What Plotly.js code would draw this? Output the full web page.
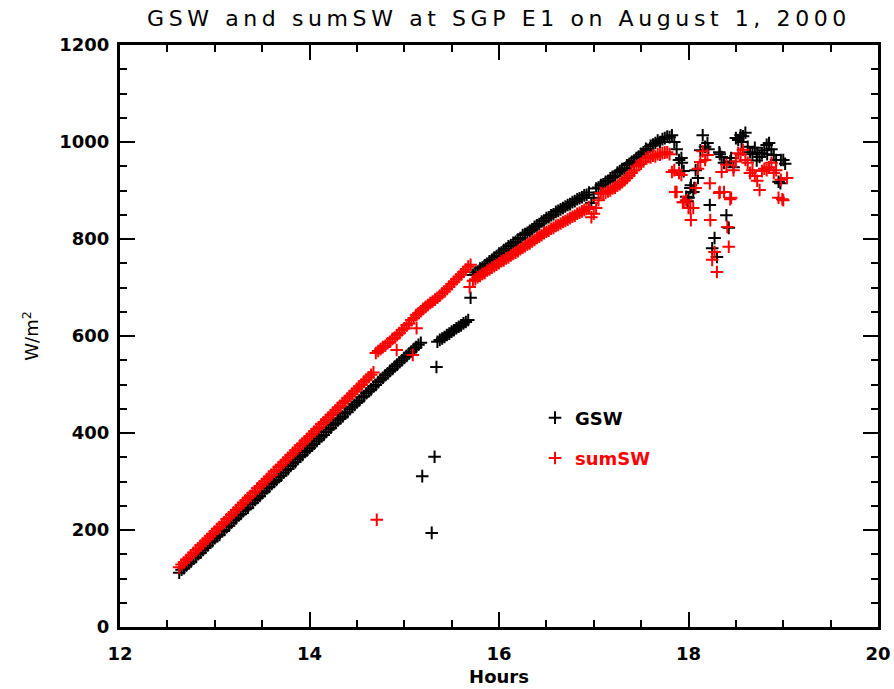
<!DOCTYPE html>
<html>
<head>
<meta charset="utf-8">
<script src="https://cdn.plot.ly/plotly-3.0.1.min.js"></script>
<style>
html,body{margin:0;padding:0;background:#fff;}
#chart{width:894px;height:689px;}
</style>
</head>
<body>
<div id="chart"></div>
<script>
// Time of day (hours) for the regular samples
const hours = [
12.625,12.65,12.675,12.7,12.725,12.75,12.775,12.8,12.825,12.85,
12.875,12.9,12.925,12.95,12.975,13,13.025,13.05,13.075,13.1,
13.125,13.15,13.175,13.2,13.225,13.25,13.275,13.3,13.325,13.35,
13.375,13.4,13.425,13.45,13.475,13.5,13.525,13.55,13.575,13.6,
13.625,13.65,13.675,13.7,13.725,13.75,13.775,13.8,13.825,13.85,
13.875,13.9,13.925,13.95,13.975,14,14.025,14.05,14.075,14.1,
14.125,14.15,14.175,14.2,14.225,14.25,14.275,14.3,14.325,14.35,
14.375,14.4,14.425,14.45,14.475,14.5,14.525,14.55,14.575,14.6,
14.625,14.65,14.675,14.7,14.725,14.75,14.775,14.8,14.825,14.85,
14.875,14.9,14.925,14.95,14.975,15,15.025,15.05,15.075,15.1,
15.125,15.15,15.175,15.2,15.225,15.25,15.275,15.3,15.325,15.35,
15.375,15.4,15.425,15.45,15.475,15.5,15.525,15.55,15.575,15.6,
15.625,15.65,15.675,15.7,15.725,15.75,15.775,15.8,15.825,15.85,
15.875,15.9,15.925,15.95,15.975,16,16.025,16.05,16.075,16.1,
16.125,16.15,16.175,16.2,16.225,16.25,16.275,16.3,16.325,16.35,
16.375,16.4,16.425,16.45,16.475,16.5,16.525,16.55,16.575,16.6,
16.625,16.65,16.675,16.7,16.725,16.75,16.775,16.8,16.825,16.85,
16.875,16.9,16.925,16.95,16.975,17,17.025,17.05,17.075,17.1,
17.125,17.15,17.175,17.2,17.225,17.25,17.275,17.3,17.325,17.35,
17.375,17.4,17.425,17.45,17.475,17.5,17.525,17.55,17.575,17.6,
17.625,17.65,17.675,17.7,17.725,17.75,17.775,17.8,17.825,17.85,
17.875,17.9,17.925,17.95,17.975,18,18.025,18.05,18.075,18.1,
18.125,18.15,18.175,18.2,18.225,18.25,18.275,18.3,18.325,18.35,
18.375,18.4,18.425,18.45,18.475,18.5,18.525,18.55,18.575,18.6,
18.625,18.65,18.675,18.7,18.725,18.75,18.775,18.8,18.825,18.85,
18.875,18.9,18.925,18.95,18.975,19
];

// GSW (W/m^2) at each sample time; null = no sample in the band
const gsw = [
112,118,121,127,131,135,141,144,150,153,
159,163,168,174,177,183,187,190,197,200,
206,209,215,220,224,230,233,239,243,246,
253,256,262,266,270,276,280,286,289,295,
299,303,309,312,318,323,326,332,337,340,
346,351,355,361,364,369,374,378,383,388,
393,396,402,407,411,417,420,426,430,434,
440,443,449,454,458,463,467,473,476,482,
486,490,496,499,505,510,514,519,523,528,
532,537,541,546,550,555,559,564,568,573,
577,582,586,null,null,null,null,null,null,588,
592,595,598,602,605,609,612,616,619,622,
626,629,633,679,726,731,733,739,741,746,
749,754,757,762,765,770,772,777,780,785,
787,792,794,799,802,808,810,813,817,820,
825,828,831,836,838,843,845,849,851,856,
858,861,864,867,870,872,876,878,882,884,
886,890,891,896,874,885,904,906,911,913,
918,920,925,928,931,937,940,944,946,952,
955,959,962,967,970,975,979,986,983,992,
995,998,1003,1000,1006,1008,1011,1010,1014,1000,
985,963,967,940,887,885,911,897,942,926,
983,1014,990,998,870,781,802,763,979,969,
957,849,823,967,948,1008,1004,1014,1012,1019,
990,979,975,988,977,969,977,983,994,998,
985,973,963,918,963,963
];

// sumSW (W/m^2) at each sample time
const sumsw = [
123,129,133,138,143,148,153,158,162,168,
172,177,182,187,192,197,202,206,212,216,
222,226,231,236,241,246,251,256,261,266,
270,276,280,286,290,295,300,305,310,314,
320,324,330,334,339,344,349,354,359,364,
368,374,378,383,388,393,398,403,408,412,
418,422,427,432,437,442,447,452,456,462,
466,471,476,481,486,491,496,500,506,510,
515,520,525,565,569,573,577,580,585,588,
594,597,602,606,612,616,622,626,633,637,
643,647,651,656,660,664,668,671,675,679,
683,688,692,697,702,707,712,717,722,727,
732,737,743,747,714,717,721,724,728,730,
735,737,741,744,747,750,754,756,760,762,
766,769,772,775,779,782,785,789,791,795,
798,802,805,808,812,815,817,821,823,827,
829,832,835,837,840,843,846,848,852,854,
857,860,862,866,845,852,864,880,895,893,
895,898,900,904,906,910,913,917,921,926,
931,936,941,950,953,955,960,966,969,968,
972,970,975,974,977,978,979,975,938,942,
897,936,932,876,880,864,839,864,905,945,
959,981,963,973,915,757,773,732,895,938,
897,953,784,885,942,960,977,975,984,963,
957,936,942,930,920,901,940,945,942,948,
957,936,942,885,922,880
];

// Additional (off-grid) samples: outliers and the scattered cloudy period
const gswExtraHours = [15.19,15.29,15.32,15.34,17.93,18.02,17.99,18.21,18.33,18.44,18.56,18.72,18.83,18.97,19.02,18.06];
const gswExtraVals  = [311,194,351,536,957,905,878,985,975,960,1000,962,975,915,955,905];
const sumExtraHours = [14.71,14.92,15.09,15.13,15.69,18.23,18.41,18.33,17.86,17.94,18.99,19.04,18.65,18.02,18.44];
const sumExtraVals  = [221,571,561,616,701,839,825,897,897,876,882,926,936,864,882];

const seriesNames = ['GSW', 'sumSW'];
const chartTitle = 'GSW and sumSW at SGP E1 on August 1, 2000';
const xTitle = 'Hours';
const yTitle = 'W/m<sup>2</sup>';

const traces = [
  {
    type: 'scatter', mode: 'markers',
    name: seriesNames[0], legendgroup: 'g1',
    x: hours.concat(gswExtraHours),
    y: gsw.concat(gswExtraVals),
    marker: {symbol: 'cross-thin-open', size: 9, color: '#000000', line: {color: '#000000', width: 2}}
  },
  {
    type: 'scatter', mode: 'markers',
    name: '<span style="color:#ff0000">' + seriesNames[1] + '</span>', legendgroup: 'g2',
    x: hours.concat(sumExtraHours),
    y: sumsw.concat(sumExtraVals),
    marker: {symbol: 'cross-thin-open', size: 9, color: '#ff0000', line: {color: '#ff0000', width: 2}}
  }
];

const tickFont = {family: 'DejaVu Sans', size: 18, color: '#000', weight: 'bold'};
const axisBase = {
  showline: true, linecolor: '#000', linewidth: 3, mirror: 'ticks',
  ticks: 'inside', ticklen: 15, tickwidth: 2, tickcolor: '#000',
  showgrid: false, zeroline: false, tickfont: tickFont, fixedrange: true
};

const layout = {
  width: 894, height: 689,
  paper_bgcolor: '#ffffff', plot_bgcolor: '#ffffff',
  margin: {l: 120, r: 16, t: 45, b: 62, pad: 0},
  showlegend: true,
  title: {
    text: '<span style="letter-spacing:4.6px">' + chartTitle + '</span>',
    font: {family: 'DejaVu Sans', size: 22, color: '#000'},
    x: 0.5, xref: 'paper', xanchor: 'center',
    y: 0.974, yref: 'container', yanchor: 'middle'
  },
  xaxis: Object.assign({}, axisBase, {
    range: [12, 20], tick0: 12, dtick: 2,
    ticklabelstandoff: 8,
    minor: {dtick: 0.5, ticks: 'inside', ticklen: 7, tickwidth: 2, tickcolor: '#000'},
    title: {text: xTitle, font: {family: 'DejaVu Sans', size: 18, color: '#000', weight: 'bold'}, standoff: 8}
  }),
  yaxis: Object.assign({}, axisBase, {
    range: [0, 1200], tick0: 0, dtick: 200,
    ticklabelstandoff: 4,
    minor: {dtick: 50, ticks: 'inside', ticklen: 7, tickwidth: 2, tickcolor: '#000'},
    title: {text: yTitle, font: {family: 'DejaVu Sans', size: 18, color: '#000'}, standoff: 16}
  }),
  legend: {
    x: 0.5475, y: 0.391, xanchor: 'left', yanchor: 'top',
    bgcolor: 'rgba(0,0,0,0)', borderwidth: 0,
    font: {family: 'DejaVu Sans', size: 18, color: '#000', weight: 'bold'},
    tracegroupgap: 14, itemclick: false, itemdoubleclick: false
  },
  hovermode: false
};

Plotly.newPlot('chart', traces, layout, {displayModeBar: false, staticPlot: true});
</script>
</body>
</html>
